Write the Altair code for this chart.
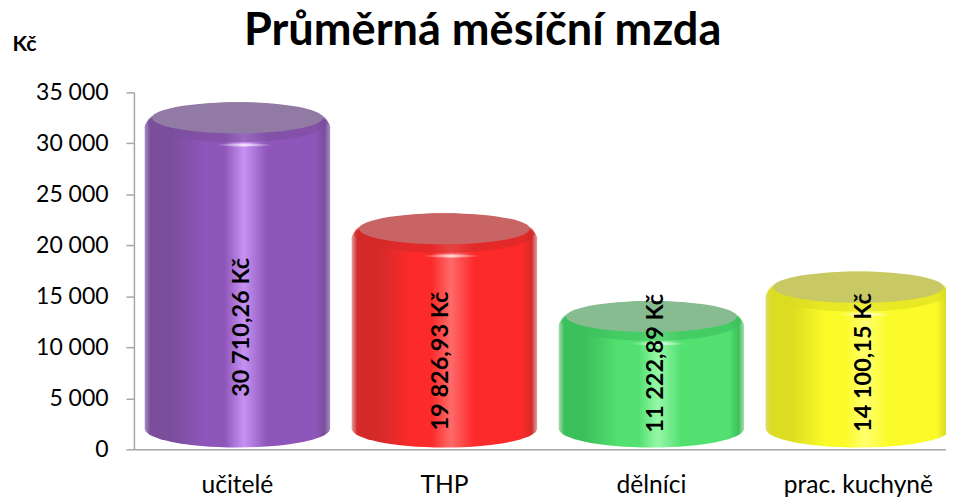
import altair as alt
import pandas as pd

categories = ["učitelé", "THP", "dělníci", "prac. kuchyně"]
values = [30710.26, 19826.93, 11222.89, 14100.15]
value_labels = ["30 710,26 Kč", "19 826,93 Kč", "11 222,89 Kč", "14 100,15 Kč"]
y_ticks = [0, 5000, 10000, 15000, 20000, 25000, 30000, 35000]

# style tables: (edge, shade, body, highlight, lid)
palettes = [
    ("#A58FC0", "#7B4E9C", "#8E55BA", "#C692F2", "#917AA3"),
    ("#E0A0A0", "#D42A2A", "#FC2A2A", "#FF6A6A", "#C86464"),
    ("#A8DDB0", "#3CC05C", "#52E070", "#96F8A8", "#86BC90"),
    ("#DCDC70", "#DCDC22", "#FBFB2A", "#FFFF70", "#C8C864"),
]
label_dx = [5, -3, 5, 6]
label_dy = [35, 13, -29, -15]

FONT = "Lato"
BAR_W = 187


def ellipse(ratio):
    return f"M-1,0 A1,{ratio} 0 1,1 1,0 A1,{ratio} 0 1,1 -1,0 Z"


def body_gradient(p):
    edge, shade, body, hi, _ = p
    return alt.Gradient(
        gradient="linear", x1=0, x2=1, y1=0, y2=0,
        stops=[
            alt.GradientStop(offset=0, color=edge),
            alt.GradientStop(offset=0.03, color=shade),
            alt.GradientStop(offset=0.14, color=shade),
            alt.GradientStop(offset=0.32, color=body),
            alt.GradientStop(offset=0.43, color=body),
            alt.GradientStop(offset=0.535, color=hi),
            alt.GradientStop(offset=0.66, color=body),
            alt.GradientStop(offset=0.92, color=body),
            alt.GradientStop(offset=0.97, color=shade),
            alt.GradientStop(offset=1, color=edge),
        ],
    )


glint = alt.Gradient(
    gradient="linear", x1=0, x2=1, y1=0, y2=0,
    stops=[
        alt.GradientStop(offset=0, color="rgba(255,255,255,0)"),
        alt.GradientStop(offset=0.5, color="rgba(255,255,255,0.75)"),
        alt.GradientStop(offset=1, color="rgba(255,255,255,0)"),
    ],
)

x_scale = alt.Scale(domain=categories, paddingInner=0, paddingOuter=0)
y_scale = alt.Scale(domain=[0, 35000], nice=False)

x = alt.X("cat:N", scale=x_scale, sort=categories, title=None,
          axis=alt.Axis(labelAngle=0, labelFontSize=24.8, labelFont=FONT, labelColor="#000000",
                        labelPadding=37, ticks=False, domainColor="#A6A6A6", domainWidth=1.5,
                        labelBaseline="middle"))
y_axis = alt.Axis(values=y_ticks, title="Kč", titleAngle=0, titleFont=FONT, titleFontSize=21.5,
                  titleFontWeight="bold", titleColor="#000000", titleX=-123, titleY=-37,
                  titleAlign="left", labelFont=FONT, labelFontSize=23.2, labelColor="#000000",
                  labelPadding=18, tickSize=8, tickColor="#A6A6A6", tickWidth=1.5,
                  domainColor="#A6A6A6", domainWidth=1.5, grid=False,
                  labelExpr="replace(format(datum.value, ','), ',', ' ')")


def y(field):
    return alt.Y(f"{field}:Q", scale=y_scale, axis=y_axis)


layers = []
for i, cat in enumerate(categories):
    p = palettes[i]
    d = pd.DataFrame({"cat": [cat], "val": [values[i]], "zero": [0]})
    grad = body_gradient(p)
    base = alt.Chart(d)
    # bottom rounded end
    layers.append(base.mark_point(filled=True, opacity=1, fill=grad, strokeWidth=0,
                                  shape=ellipse(0.205), size=BAR_W ** 2, yOffset=-21)
                  .encode(x=x, y=y("zero")))
    # outer silhouette of the top
    layers.append(base.mark_point(filled=True, opacity=1, fill=grad, strokeWidth=0,
                                  shape=ellipse(0.267), size=BAR_W ** 2, yOffset=-9)
                  .encode(x=x, y=y("val")))
    # body
    layers.append(base.mark_bar(size=BAR_W, fill=grad, yOffset=-9, y2Offset=-21, strokeWidth=0)
                  .encode(x=x, y=y("val"), y2="zero:Q"))
    # darker bevel under the lid
    layers.append(base.mark_point(filled=True, opacity=0.6, fill=p[1], strokeWidth=0,
                                  shape=ellipse(0.22), size=182 ** 2, yOffset=-14)
                  .encode(x=x, y=y("val")))
    # lid
    layers.append(base.mark_point(filled=True, opacity=1, fill=p[4], strokeWidth=0,
                                  shape=ellipse(0.183), size=172 ** 2, yOffset=-18.5)
                  .encode(x=x, y=y("val")))
    # glint under the lid
    layers.append(base.mark_point(filled=True, opacity=1, fill=glint, strokeWidth=0,
                                  shape=ellipse(0.05), size=58 ** 2, yOffset=9, xOffset=7)
                  .encode(x=x, y=y("val")))

for i, cat in enumerate(categories):
    d = pd.DataFrame({"cat": [cat], "mid": [values[i] / 2], "label": [value_labels[i]]})
    layers.append(alt.Chart(d).mark_text(angle=270, font=FONT, fontSize=23.7, fontWeight="bold",
                                         color="#000000", align="center", baseline="middle",
                                         xOffset=label_dx[i], yOffset=label_dy[i])
                  .encode(x=x, y=y("mid"), text="label:N"))

chart = (
    alt.layer(*layers)
    .properties(
        width=835, height=360,
        autosize=alt.AutoSizeParams(type="none"),
        padding={"left": 127, "top": 83, "right": -16, "bottom": 46},
        background="#FFFFFF",
        title=alt.Title("Průměrná měsíční mzda", font=FONT, fontSize=45.5, fontWeight="bold",
                        color="#000000", anchor="start", dx=234, offset=-21),
    )
    .configure_view(stroke=None)
)

chart.save("out.html", embed_options={"renderer": "svg", "actions": False})
